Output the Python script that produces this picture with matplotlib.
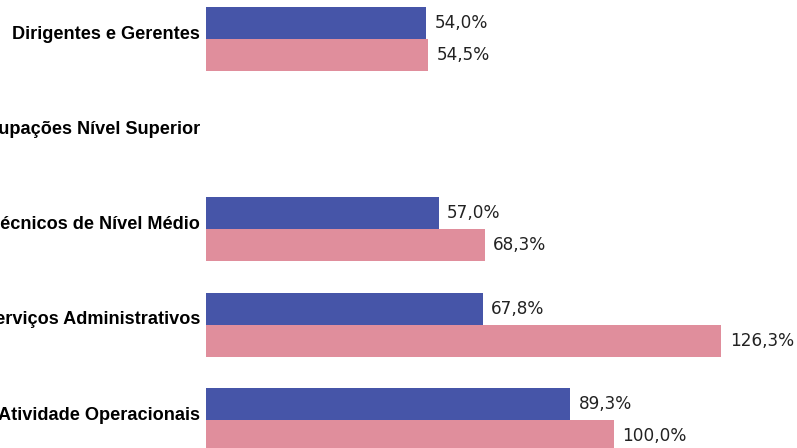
import numpy as np
from matplotlib import pyplot as plt
from matplotlib.transforms import ScaledTranslation

categorias = ["Dirigentes e Gerentes", "Ocupações Nível Superior",
              "Técnicos de Nível Médio", "Serviços Administrativos",
              "Atividade Operacionais"]
serie_azul = [54.0, np.nan, 57.0, 67.8, 89.3]
serie_rosa = [54.5, np.nan, 68.3, 126.3, 100.0]

cor_azul = "#4655A8"
cor_rosa = "#E08E9C"

fig = plt.figure(figsize=(7.97, 4.48), dpi=100)
ax = fig.add_axes([206 / 797, 0, 591 / 797, 1])

pos = np.arange(len(categorias))
h = 0.336

def barras(valores, desloc, cor):
    for y, v in zip(pos, valores):
        if np.isnan(v):
            continue
        ax.barh(y + desloc, v, height=h, color=cor)
        ax.annotate(f"{v:.1f}%".replace(".", ","), (v, y + desloc),
                    xytext=(6, 0), textcoords="offset points",
                    va="center", ha="left", fontsize=12.2, color="#222222")

barras(serie_azul, -h / 2, cor_azul)
barras(serie_rosa, h / 2, cor_rosa)

ax.set_xlim(0, 591 / 4.08)
ax.set_ylim(4.294, -0.409)
ax.set_yticks(pos, categorias, fontweight="bold", fontsize=13.1,
              family=["Liberation Sans", "DejaVu Sans"])
ax.tick_params(axis="y", length=0, pad=4.3)
ax.set_xticks([])
for s in ax.spines.values():
    s.set_visible(False)

# rotulos um pouco acima do centro do grupo
desl = ScaledTranslation(0, 5 / 72, fig.dpi_scale_trans)
for lbl in ax.get_yticklabels():
    lbl.set_transform(lbl.get_transform() + desl)

plt.savefig("out.png", dpi=100)
